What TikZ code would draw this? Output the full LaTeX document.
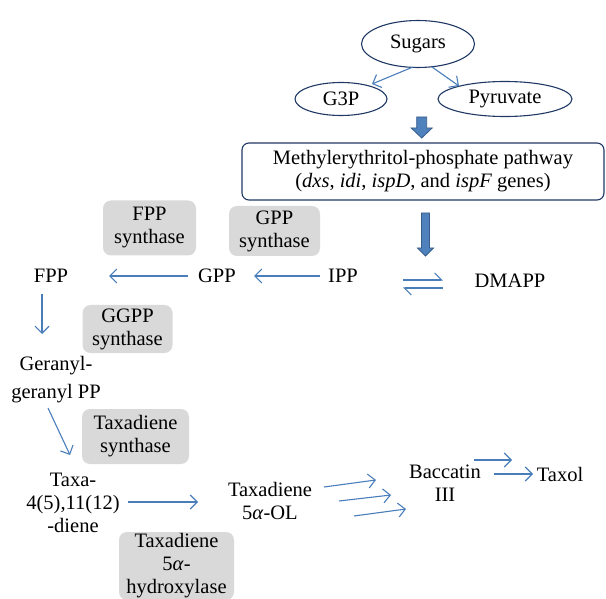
\documentclass[tikz,border=0pt]{standalone}
\usepackage{fontspec}
\setmainfont{Liberation Serif}
\usetikzlibrary{shapes.geometric,arrows.meta}
\definecolor{arrblue}{HTML}{4A7EBB}
\definecolor{ellcol}{HTML}{1F3864}
\definecolor{boxgrey}{HTML}{D9D9D9}
\definecolor{blockfill}{HTML}{4F81BD}
\definecolor{blockline}{HTML}{385D8A}
\tikzset{
  ell/.style={ellipse, draw=ellcol, line width=1.1pt, inner sep=0pt},
  txt/.style={font=\fontsize{20.5}{23}\selectfont, align=center, inner sep=0pt},
  enz/.style={rounded corners=8pt, fill=boxgrey, font=\fontsize{20.5}{23}\selectfont, align=center, inner sep=0pt},
  flow/.style={draw=arrblue, line width=1.1pt, -{Straight Barb[length=7pt,width=14pt,line width=1.1pt]}},
  harp/.style={draw=arrblue, line width=1.1pt, -{Straight Barb[harpoon,length=7pt,width=14pt,line width=1.1pt]}},
  block/.style={fill=blockfill, draw=blockline, line width=0.8pt}
}
\begin{document}
\begin{tikzpicture}[x=1pt,y=-1pt]
\useasboundingbox (0,0) rectangle (606,599);
% ellipses
\node[ell, minimum width=113pt, minimum height=47pt, txt] (sugars) at (418,44) {Sugars};
\node[ell, minimum width=92pt, minimum height=33pt, txt] (g3p) at (341,99) {G3P};
\node[ell, minimum width=134pt, minimum height=35pt, txt] (pyr) at (505,99) {Pyruvate};
\coordinate (s1) at (413,67); \coordinate (g1) at (372,84);
\coordinate (s2) at (432,67); \coordinate (p1) at (459,86);
\draw[flow] (s1) -- (g1);
\draw[flow] (s2) -- (p1);
% MEP box
\node[draw=ellcol, line width=1.1pt, rounded corners=7pt, minimum width=362pt, minimum height=57pt, txt] (mep) at (423,171.5)
  {Methylerythritol-phosphate pathway\\(\textit{dxs}, \textit{idi}, \textit{ispD}, and \textit{ispF} genes)};
% block arrows
\coordinate (b1) at (421.7,117);
\draw[block] (b1) ++(-5,0) -- ++(0,11) -- ++(-5.5,0) -- (421.7,138) -- ++(10.5,-10) -- ++(-5.5,0) -- ++(0,-11) -- cycle;
\coordinate (b2) at (425.5,213);
\draw[block] (b2) ++(-4,0) -- ++(0,35) -- ++(-4,0) -- (425.5,256) -- ++(8,-8) -- ++(-4,0) -- ++(0,-35) -- cycle;
% row
\node[txt] (fpp) at (51,276) {FPP};
\node[txt] (gpp) at (217,276) {GPP};
\node[txt] (ipp) at (343,276) {IPP};
\node[txt] (dmapp) at (510,281) {DMAPP};
\node[enz, minimum width=93pt, minimum height=55pt] (fpps) at (149.5,228) {FPP\\synthase};
\node[enz, minimum width=91pt, minimum height=50pt] (gpps) at (274.5,231) {GPP\\synthase};
\coordinate (gppL) at (188,276);
\coordinate (fppR) at (109,276);
\coordinate (ippL) at (320,276);
\coordinate (gppR) at (254,276);
\draw[flow] (gppL) -- (fppR);
\draw[flow] (ippL) -- (gppR);
\coordinate (eqA) at (403,280);
\coordinate (eqB) at (443,280);
\coordinate (eqC) at (443,288);
\coordinate (eqD) at (403,288);
\draw[harp] (eqA) -- (eqB);
\draw[harp] (eqC) -- (eqD);
% column
\node[enz, minimum width=90pt, minimum height=48pt] (ggpps) at (127.5,329) {GGPP\\synthase};
\node[txt] (ggpp) at (56,380) {Geranyl-\\[5pt]geranyl PP};
\coordinate (fppB) at (42,294);
\coordinate (ggT) at (42,334);
\draw[flow] (fppB) -- (ggT);
\node[enz, minimum width=107pt, minimum height=55pt] (txs) at (135.5,436.5) {Taxadiene\\synthase};
\node[txt] (taxa) at (73,503) {Taxa-\\4(5),11(12)\\-diene};
\coordinate (ggB) at (48,408);
\coordinate (taxaT) at (70,455);
\draw[flow] (ggB) -- (taxaT);
\node[txt] (tol) at (270,501) {Taxadiene\\5\textit{α}-OL};
\node[enz, minimum width=115pt, minimum height=68pt] (hyd) at (176.5,566) {Taxadiene\\5\textit{α}-\\hydroxylase};
\coordinate (taxaR) at (128,502);
\coordinate (tolL) at (198,502);
\draw[flow] (taxaR) -- (tolL);
\node[txt] (bac) at (445,483) {Baccatin\\III};
\coordinate (t1a) at (324,487); \coordinate (t1b) at (376,480);
\coordinate (t2a) at (339,501); \coordinate (t2b) at (391,495);
\coordinate (t3a) at (354,516); \coordinate (t3b) at (406,509);
\draw[flow] (t1a) -- (t1b);
\draw[flow] (t2a) -- (t2b);
\draw[flow] (t3a) -- (t3b);
\node[txt] (taxol) at (560,474) {Taxol};
\coordinate (u1a) at (474,460); \coordinate (u1b) at (512,460);
\coordinate (u2a) at (494,474); \coordinate (u2b) at (533,474);
\draw[flow] (u1a) -- (u1b);
\draw[flow] (u2a) -- (u2b);
\end{tikzpicture}
\end{document}
